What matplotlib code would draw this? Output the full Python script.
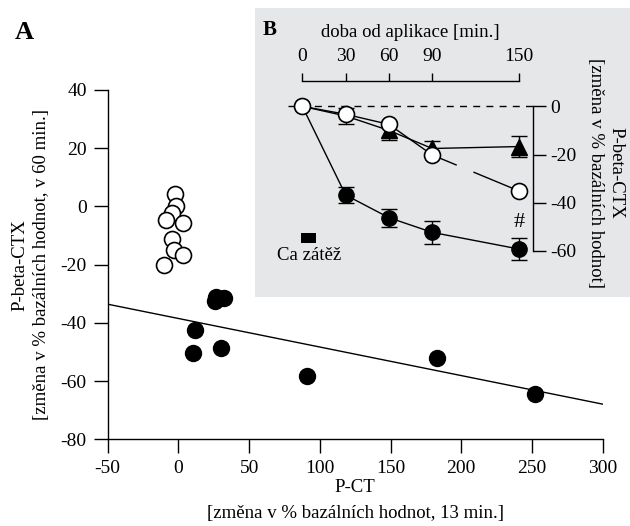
import numpy as np
import matplotlib
matplotlib.use("Agg")
import matplotlib.pyplot as plt
from matplotlib.patches import Rectangle

plt.rcParams["font.family"] = ["Liberation Serif", "DejaVu Serif"]
plt.rcParams["axes.unicode_minus"] = False

# ---- Panel A: P-CT change vs P-beta-CTX change ----
pct_open = [-2.7, -1.8, -4.8, -8.8, 3.4, -4.4, -3.0, 3.4, -10.0]
ctx_open = [4.4, 0.2, -2.3, -4.8, -5.7, -11.2, -14.9, -16.6, -20.0]
pct_filled = [26.5, 32.2, 25.8, 11.7, 10.5, 30.0, 91.1, 182.6, 252.1]
ctx_filled = [-31.1, -31.4, -32.6, -42.6, -50.4, -48.8, -58.3, -51.9, -64.3]
a_xticks = [-50, 0, 50, 100, 150, 200, 250, 300]
a_yticks = [-80, -60, -40, -20, 0, 20, 40]

# ---- Panel B: time course after application ----
time_min = [0, 30, 60, 90, 150]
ca_mean = [0, -36.8, -46.2, -52.3, -59.2]
ca_err = [0, 3.3, 3.8, 4.7, 4.5]
tri_mean = [0, -4.0, -10.0, -17.5, -16.7]
tri_err = [0, 3.3, 4.0, 3.0, 4.5]
open_mean = [0, -3.3, -7.5, -20.2, -35.1]
b_yticks = [0, -20, -40, -60]

W, H = 630, 526
fig = plt.figure(figsize=(W / 100, H / 100), dpi=100)
TFS = 14     # tick labels
LFS = 13.5   # axis labels

# ---------------- Panel A ----------------
ax = fig.add_axes([107.7 / W, 1 - 439.3 / H, (602.6 - 107.7) / W, (439.3 - 90) / H])
ax.set_xlim(-50, 300)
ax.set_ylim(-80, 40)
ax.set_xticks(a_xticks)
ax.set_yticks(a_yticks)
for s in ("top", "right"):
    ax.spines[s].set_visible(False)
for s in ("left", "bottom"):
    ax.spines[s].set_linewidth(1.0)
ax.tick_params(direction="out", length=10, width=1, labelsize=TFS)
ax.tick_params(axis="y", pad=5)
ax.tick_params(axis="x", pad=5)

slope, intercept = np.polyfit(pct_filled, ctx_filled, 1)
xl = np.array(ax.get_xlim())
ax.plot(xl, slope * xl + intercept, color="black", lw=1.0, zorder=2)

ax.plot(pct_open, ctx_open, ls="none", marker="o", ms=11.5, mfc="white",
        mec="black", mew=1.2, zorder=3, clip_on=False)
ax.plot(pct_filled, ctx_filled, ls="none", marker="o", ms=11.5, mfc="black",
        mec="black", zorder=3, clip_on=False)

ax.set_xlabel("P-CT\n[změna v % bazálních hodnot, 13 min.]", fontsize=LFS,
              labelpad=1, linespacing=1.7)
ax.set_ylabel("P-beta-CTX\n[změna v % bazálních hodnot, v 60 min.]", fontsize=LFS,
              labelpad=8, linespacing=1.3)

fig.text(15 / W, 1 - 39 / H, "A", fontsize=19, fontweight="bold", va="baseline")

# ---------------- Panel B (inset) ----------------
fig.add_artist(Rectangle((255 / W, 1 - 297 / H), (W - 255) / W, (297 - 8) / H,
                         transform=fig.transFigure, facecolor="#e6e7e9",
                         edgecolor="none", zorder=0.5))

axb = fig.add_axes([287.9 / W, 1 - 265.4 / H, (533.3 - 287.9) / W, (265.4 - 81) / H],
                   zorder=1)
axb.set_facecolor("none")
axb.set_xlim(-10, 160)
axb.set_ylim(-66, 10.5)
axb.set_xticks(time_min)
axb.set_yticks(b_yticks)
axb.xaxis.tick_top()
axb.yaxis.tick_right()
axb.spines["left"].set_visible(False)
axb.spines["bottom"].set_visible(False)
axb.spines["top"].set_bounds(0, 150)
axb.spines["right"].set_bounds(-60, 0)
axb.spines["top"].set_linewidth(1.0)
axb.spines["right"].set_linewidth(1.0)
axb.tick_params(axis="x", direction="out", length=5.5, width=1, pad=6, labelsize=TFS)
axb.tick_params(axis="y", direction="out", length=9.5, width=1, pad=3, labelsize=TFS)

axb.axhline(0, color="black", lw=1.0, ls=(0, (5, 4.5)), zorder=1)

axb.errorbar(time_min, ca_mean, yerr=ca_err, fmt="-o", color="black", mfc="black",
             mec="black", ms=11, lw=1.0, elinewidth=1.0, capsize=5.5, capthick=1.0,
             zorder=2)
axb.errorbar(time_min, tri_mean, yerr=tri_err, fmt="-^", color="black", mfc="black",
             mec="black", ms=12, lw=1.0, elinewidth=1.0, capsize=5.5, capthick=1.0,
             markevery=[2, 3, 4], zorder=3)
axb.plot(time_min, open_mean, color="black", lw=1.0, ls=(0, (121, 13)), marker="o",
         ms=11.5, mfc="white", mec="black", mew=1.2, zorder=4)

axb.text(150, -48, "#", fontsize=16, ha="center", va="center")
axb.add_patch(Rectangle((-0.9, -56.6), 10.7, 3.9, facecolor="black", edgecolor="none"))
axb.text(4.6, -63.8, "Ca zátěž", fontsize=LFS, ha="center", va="baseline")

axb.xaxis.set_label_position("top")
axb.set_xlabel("doba od aplikace [min.]", fontsize=LFS, labelpad=8)
axb.yaxis.set_label_position("right")
axb.set_ylabel("P-beta-CTX\n[změna v % bazálních hodnot]", fontsize=LFS,
               rotation=270, va="bottom", labelpad=7, linespacing=1.3)

fig.text(263 / W, 1 - 35 / H, "B", fontsize=15, fontweight="bold", va="baseline")

fig.savefig("out.png", dpi=100)
